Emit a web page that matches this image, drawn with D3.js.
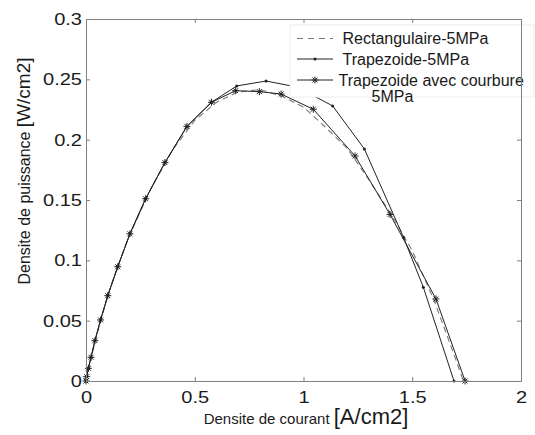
<!DOCTYPE html>
<html><head><meta charset="utf-8">
<script src="https://cdn.jsdelivr.net/npm/d3@7"></script>
<style>
body{margin:0;background:#fff}
svg{display:block}
text{font-family:"Liberation Sans",Arial,Helvetica,sans-serif;fill:#1a1a1a}
</style></head><body>
<svg id="c" width="535" height="435"></svg>
<script>
// ---- data ----
const rectX = [0,0.02,0.05,0.1,0.15,0.2,0.3,0.4,0.5,0.6,0.7,0.8,0.9,1.0,1.1,1.2,1.3,1.4,1.5,1.6,1.7,1.735];
const rectY = [0,0.017,0.038,0.071,0.097,0.121,0.160,0.192,0.216,0.231,0.2395,0.2415,0.236,0.227,0.2105,0.193,0.167,0.139,0.108,0.067,0.018,0];

const trapX = [0,0.003,0.011,0.023,0.041,0.067,0.100,0.146,0.202,0.274,0.363,0.464,0.577,0.693,0.828,0.970,1.134,1.280,1.460,1.551,1.692];
const trapY = [0,0.0036,0.0105,0.0196,0.0334,0.0506,0.0707,0.0947,0.122,0.151,0.181,0.211,0.231,0.2445,0.2486,0.2436,0.228,0.1923,0.119,0.0777,0];

const courbX = [0,0.003,0.011,0.023,0.041,0.067,0.100,0.146,0.202,0.274,0.363,0.464,0.577,0.688,0.797,0.897,1.045,1.237,1.398,1.609,1.743];
const courbY = [0,0.0036,0.0105,0.0196,0.0334,0.0506,0.0707,0.0947,0.122,0.151,0.181,0.211,0.231,0.2406,0.2398,0.2378,0.2252,0.1865,0.138,0.068,0];

const xTicks = [0,0.5,1,1.5,2];
const xTickLabels = ["0","0.5","1","1.5","2"];
const yTicks = [0,0.05,0.1,0.15,0.2,0.25,0.3];
const yTickLabels = ["0","0.05","0.1","0.15","0.2","0.25","0.3"];

const legendLabels = ["Rectangulaire-5MPa","Trapezoide-5MPa","Trapezoide avec courbure"];
const legendExtra = "5MPa";
const xLabel = ["Densite de courant ","[A/cm2]"];
const yLabel = ["Densite de puissance ","[W/cm2]"];

// ---- layout ----
const L=86, R=521, T=19, B=381;
const x = d3.scaleLinear().domain([0,2]).range([L,R]);
const y = d3.scaleLinear().domain([0,0.3]).range([B,T]);
const svg = d3.select("#c");
svg.append("rect").attr("width",535).attr("height",435).attr("fill","#fff");

const lineGen = d3.line().x(d=>x(d[0])).y(d=>y(d[1]));
const lineCol = "#222";

function starPath(r){
  const d = r*0.7071;
  return `M${-r},0L${r},0M0,${-r}L0,${r}M${-d},${-d}L${d},${d}M${-d},${d}L${d},${-d}`;
}

// dashed
svg.append("path").datum(d3.zip(rectX,rectY)).attr("d",lineGen)
  .attr("fill","none").attr("stroke","#7a7a7a").attr("stroke-width",1.1).attr("stroke-dasharray","6,4");
// trapezoid
svg.append("path").datum(d3.zip(trapX,trapY)).attr("d",lineGen)
  .attr("fill","none").attr("stroke",lineCol).attr("stroke-width",1);
svg.append("g").selectAll("circle").data(d3.zip(trapX,trapY)).join("circle")
  .attr("cx",d=>x(d[0])).attr("cy",d=>y(d[1])).attr("r",1.5).attr("fill",lineCol);
// courbure
svg.append("path").datum(d3.zip(courbX,courbY)).attr("d",lineGen)
  .attr("fill","none").attr("stroke",lineCol).attr("stroke-width",1);
svg.append("g").selectAll("path").data(d3.zip(courbX,courbY)).join("path")
  .attr("transform",d=>`translate(${x(d[0])},${y(d[1])})`).attr("d",starPath(3.5))
  .attr("fill","none").attr("stroke",lineCol).attr("stroke-width",1);

// legend
const lg = svg.append("g");
lg.append("rect").attr("x",290).attr("y",25).attr("width",244).attr("height",72)
  .attr("fill","#fff").attr("stroke","#ececec").attr("stroke-width",1);
const rowsBase = [44,64.5,85.5];
const textX = [342.5,342.5,338.5];
rowsBase.forEach((b,i)=>{
  const ly = b-5.5;
  const ln = lg.append("line").attr("x1",297).attr("x2",333).attr("y1",ly).attr("y2",ly)
    .attr("stroke", i===0?"#7a7a7a":lineCol).attr("stroke-width",i===0?1.1:1);
  if(i===0) ln.attr("stroke-dasharray","6,5");
  if(i===1) lg.append("circle").attr("cx",315).attr("cy",ly).attr("r",1.5).attr("fill",lineCol);
  if(i===2) lg.append("path").attr("transform",`translate(315,${ly})`).attr("d",starPath(3.5))
    .attr("fill","none").attr("stroke",lineCol);
  lg.append("text").attr("x",textX[i]).attr("y",b).attr("font-size","16px").text(legendLabels[i]);
});
lg.append("text").attr("x",371.5).attr("y",102).attr("font-size","16px").text(legendExtra);

// axes
const axCol = "#808080";
function styleAxis(g){
  g.select(".domain").attr("stroke",axCol);
  g.selectAll(".tick line").attr("stroke",axCol);
}
const gx = svg.append("g").attr("transform",`translate(0,${B})`)
  .call(d3.axisBottom(x).tickValues(xTicks).tickFormat((d,i)=>xTickLabels[i]).tickSizeInner(-4).tickSizeOuter(0).tickPadding(10));
gx.call(styleAxis);
gx.selectAll("text").attr("font-size","17px").attr("fill","#1a1a1a")
  .attr("transform","scale(1.18,1)");
const gy = svg.append("g").attr("transform",`translate(${L},0)`)
  .call(d3.axisLeft(y).tickValues(yTicks).tickFormat((d,i)=>yTickLabels[i]).tickSizeInner(-4).tickSizeOuter(0).tickPadding(4));
gy.call(styleAxis);
gy.selectAll("text").attr("font-size","17px").attr("fill","#1a1a1a")
  .attr("transform","scale(1.18,1)").attr("x",-3.4);
const gt = svg.append("g").attr("transform",`translate(0,${T})`)
  .call(d3.axisTop(x).tickValues(xTicks).tickFormat("").tickSizeInner(-4).tickSizeOuter(0));
gt.call(styleAxis);
const gr = svg.append("g").attr("transform",`translate(${R},0)`)
  .call(d3.axisRight(y).tickValues(yTicks).tickFormat("").tickSizeInner(-4).tickSizeOuter(0));
gr.call(styleAxis);
svg.selectAll(".tick text").attr("font-family","'Liberation Sans',Arial,sans-serif");

// axis labels
const xl = svg.append("text").attr("x",306).attr("y",424).attr("text-anchor","middle");
xl.append("tspan").attr("font-size","15px").text(xLabel[0]);
xl.append("tspan").attr("font-size","22px").text(xLabel[1]);
const yl = svg.append("text").attr("transform","translate(30,171) rotate(-90)").attr("text-anchor","middle");
yl.append("tspan").attr("font-size","16px").text(yLabel[0]);
yl.append("tspan").attr("font-size","19px").text(yLabel[1]);
</script>
</body></html>
